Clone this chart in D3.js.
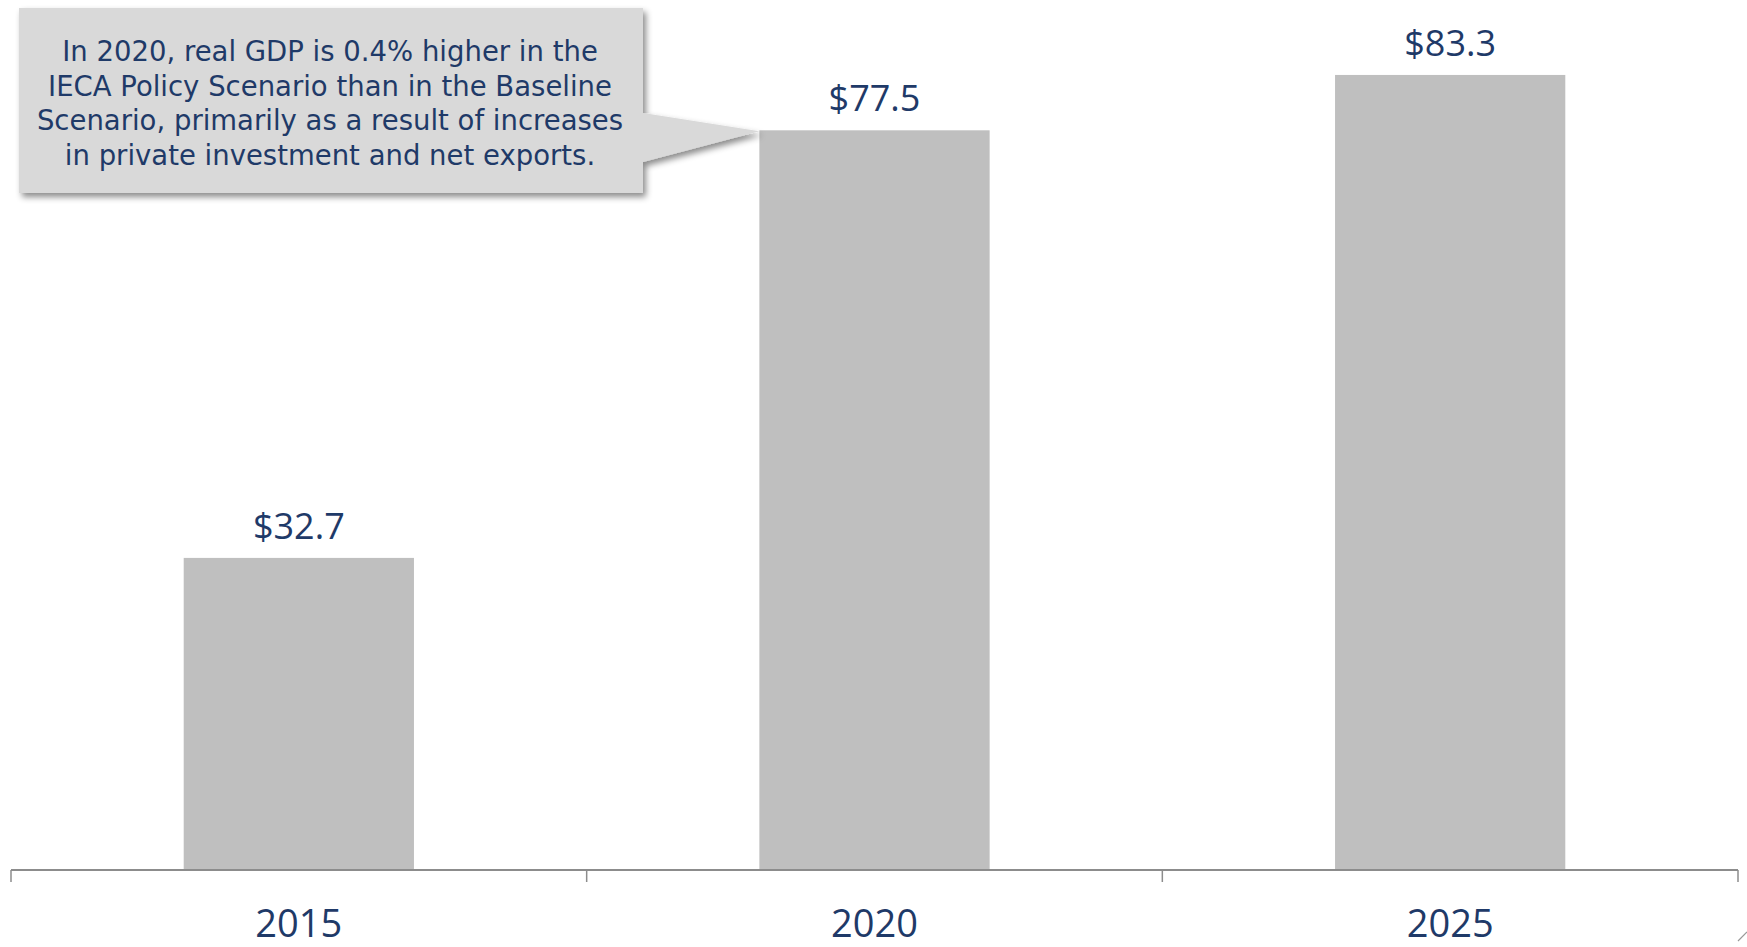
<!DOCTYPE html>
<html>
<head>
<meta charset="utf-8">
<script src="https://cdn.jsdelivr.net/npm/d3@7"></script>
<style>
  html, body { margin: 0; padding: 0; background: #fff; }
  svg { display: block; }
  text { font-family: "Open Sans", "DejaVu Sans", sans-serif; }
  .callout text { font-family: "DejaVu Sans", sans-serif; }
</style>
</head>
<body>
<svg id="chart" width="1747" height="947"></svg>
<script>
// Real GDP gain, billions of dollars
const years = ["2015", "2020", "2025"];
const gdpGain = [32.7, 77.5, 83.3];
const valueLabels = ["$32.7", "$77.5", "$83.3"];
const calloutLines = [
  "In 2020, real GDP is 0.4% higher in the",
  "IECA Policy Scenario than in the Baseline",
  "Scenario, primarily as a result of increases",
  "in private investment and net exports."
];
const calloutYear = "2020";

const svg = d3.select("#chart");
const textColor = "#1f3a68";
const axisColor = "#8c8c8c";

const x = d3.scaleBand()
  .domain(years)
  .range([11, 1738])
  .paddingInner(0.6)
  .paddingOuter(0.3);

const y = d3.scaleLinear()
  .domain([0, 90])
  .range([870, 11]);

// shadow filter for the callout
const defs = svg.append("defs");
const f = defs.append("filter").attr("id", "shadow")
  .attr("x", "-10%").attr("y", "-10%").attr("width", "130%").attr("height", "140%");
f.append("feDropShadow")
  .attr("dx", 3).attr("dy", 4).attr("stdDeviation", 3)
  .attr("flood-color", "#000").attr("flood-opacity", 0.45);

// bars
svg.append("g").selectAll("rect")
  .data(years)
  .join("rect")
  .attr("x", d => x(d))
  .attr("width", x.bandwidth())
  .attr("y", (d, i) => y(gdpGain[i]))
  .attr("height", (d, i) => y(0) - y(gdpGain[i]))
  .attr("fill", "#bfbfbf");

// value labels
svg.append("g").selectAll("text")
  .data(years)
  .join("text")
  .attr("x", d => x(d) + x.bandwidth() / 2)
  .attr("y", (d, i) => y(gdpGain[i]) - 19)
  .attr("text-anchor", "middle")
  .attr("fill", textColor)
  .attr("font-size", 36)
  .text((d, i) => valueLabels[i]);

// category axis with ticks between categories
const [r0, r1] = x.range();
const axis = svg.append("g");
axis.append("line")
  .attr("x1", r0).attr("x2", r1)
  .attr("y1", y(0)).attr("y2", y(0))
  .attr("stroke", axisColor).attr("stroke-width", 2);
const tickPos = d3.range(years.length + 1).map(i => r0 + i * x.step());
axis.selectAll("line.tick")
  .data(tickPos)
  .join("line")
  .attr("class", "tick")
  .attr("x1", d => d).attr("x2", d => d)
  .attr("y1", y(0)).attr("y2", y(0) + 12)
  .attr("stroke", axisColor).attr("stroke-width", 1.5);
axis.selectAll("text")
  .data(years)
  .join("text")
  .attr("x", d => x(d) + x.bandwidth() / 2)
  .attr("y", y(0) + 67)
  .attr("text-anchor", "middle")
  .attr("fill", textColor)
  .attr("font-size", 38)
  .text(d => d);

// small corner mark
svg.append("line")
  .attr("x1", 1738).attr("y1", 941).attr("x2", 1747).attr("y2", 932)
  .attr("stroke", "#999").attr("stroke-width", 1.2);

// callout pointing at the 2020 bar
const box = { x0: 19, y0: 8, x1: 643, y1: 193 };
const tipX = x(calloutYear);
const tipY = y(gdpGain[years.indexOf(calloutYear)]) + 1;
const calloutPath = d3.path();
calloutPath.moveTo(box.x0, box.y0);
calloutPath.lineTo(box.x1, box.y0);
calloutPath.lineTo(box.x1, 113);
calloutPath.lineTo(tipX, tipY);
calloutPath.lineTo(box.x1, 162);
calloutPath.lineTo(box.x1, box.y1);
calloutPath.lineTo(box.x0, box.y1);
calloutPath.closePath();

const callout = svg.append("g").attr("class", "callout");
callout.append("path")
  .attr("d", calloutPath.toString())
  .attr("fill", "#d9d9d9")
  .attr("filter", "url(#shadow)");

callout.selectAll("text")
  .data(calloutLines)
  .join("text")
  .attr("x", (box.x0 + box.x1) / 2 - 1)
  .attr("y", (d, i) => 61 + i * 34.7)
  .attr("text-anchor", "middle")
  .attr("fill", textColor)
  .attr("font-size", 27.5)
  .text(d => d);
</script>
</body>
</html>
